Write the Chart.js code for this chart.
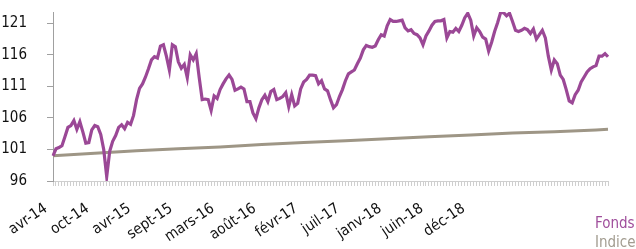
<!DOCTYPE html>
<html>
<head>
<meta charset="utf-8">
<script src="https://cdn.jsdelivr.net/npm/chart.js@4.4.1/dist/chart.umd.min.js"></script>
<style>
body { margin: 0; background: #fff; }
#wrap { position: relative; width: 636px; height: 249px; overflow: hidden; }
.leg { position: absolute; left: 595px; font-family: "DejaVu Sans Condensed", "DejaVu Sans", sans-serif; font-size: 15px; white-space: nowrap; }
</style>
</head>
<body>
<div id="wrap">
  <canvas id="chart" width="636" height="249"></canvas>
  <div class="leg" style="top:214px;color:#a04f9c">Fonds</div>
  <div class="leg" style="top:233px;color:#a29c90">Indice</div>
</div>
<script>
// x axis labels, one every 14 weekly points
const tickLabels = ['avr-14', 'oct-14', 'avr-15', 'sept-15', 'mars-16', 'août-16',
    'févr-17', 'juil-17', 'janv-18', 'juin-18', 'déc-18'];
const labelEvery = 14;

const yTicks = [96, 101, 106, 111, 116, 121];

// weekly fund values (base 100)
const fonds = [
    100.0, 101.1, 101.3, 101.6, 103.0, 104.5, 104.8, 105.6, 104.2, 105.4,
    103.8, 102.0, 102.1, 104.1, 104.8, 104.6, 103.4, 101.0, 96.7, 100.7,
    102.3, 103.2, 104.5, 104.9, 104.3, 105.3, 105.0, 106.4, 108.9, 110.7,
    111.4, 112.5, 113.8, 115.2, 115.7, 115.5, 117.4, 117.6, 115.8, 113.6,
    117.6, 117.3, 114.9, 113.9, 114.5, 112.4, 116.0, 115.2, 116.2, 112.4,
    108.9, 109.0, 108.9, 107.2, 109.5, 109.1, 110.5, 111.4, 112.2, 112.8,
    112.1, 110.4, 110.6, 110.9, 110.6, 108.6, 108.6, 106.8, 105.9, 107.6,
    108.9, 109.6, 108.6, 110.2, 110.5, 108.9, 109.1, 109.4, 110.0, 107.8,
    109.7, 107.9, 108.3, 110.6, 111.7, 112.1, 112.8, 112.8, 112.7, 111.4,
    111.9, 110.6, 110.3, 108.9, 107.6, 108.1, 109.4, 110.5, 111.9, 113.0,
    113.3, 113.6, 114.6, 115.5, 116.8, 117.5, 117.3, 117.2, 117.4, 118.4,
    119.2, 119.0, 120.6, 121.6, 121.3, 121.3, 121.4, 121.5, 120.3, 119.8,
    120.0, 119.4, 119.2, 118.7, 117.6, 119.0, 119.8, 120.7, 121.3, 121.4,
    121.4, 121.6, 118.7, 119.7, 119.6, 120.2, 119.7, 120.7, 121.9, 122.6,
    121.5, 119.0, 120.3, 119.7, 118.8, 118.5, 116.6, 118.0, 119.7, 121.1,
    122.7, 122.7, 122.2, 122.6, 121.3, 119.9, 119.7, 119.9, 120.2, 120.0,
    119.4, 120.1, 118.5, 119.2, 119.9, 118.7, 115.8, 113.6, 115.2, 114.6,
    112.8, 112.1, 110.5, 108.7, 108.4, 109.7, 110.4, 111.7, 112.5, 113.3,
    113.8, 114.1, 114.3, 115.8, 115.8, 116.2, 115.7
];

// index values read at a few weeks, line joins them
const indiceWeeks = [0, 14, 28, 42, 56, 70, 84, 98, 112, 126, 140, 154, 168, 182, 186];
const indiceValues = [100.0, 100.4, 100.8, 101.1, 101.4, 101.8, 102.1, 102.4, 102.7, 103.0, 103.3, 103.6, 103.8, 104.1, 104.2];

const weeks = fonds.map((v, i) => i);
const indice = weeks.map(() => null);
indiceWeeks.forEach((w, k) => { indice[w] = indiceValues[k]; });

const font = { family: '"DejaVu Sans Condensed", "DejaVu Sans", sans-serif', size: 15 };

new Chart(document.getElementById('chart'), {
    type: 'line',
    data: {
        labels: weeks,
        datasets: [{
            label: 'Fonds',
            data: fonds,
            borderColor: '#9b4896',
            borderWidth: 3.2,
            pointRadius: 0,
            tension: 0
        }, {
            label: 'Indice',
            data: indice,
            borderColor: '#9e9686',
            borderWidth: 3,
            pointRadius: 0,
            spanGaps: true,
            tension: 0
        }]
    },
    options: {
        responsive: false,
        animation: false,
        layout: { padding: { left: 0, right: 28, top: 12, bottom: 0 } },
        plugins: { legend: { display: false }, tooltip: { enabled: false } },
        scales: {
            x: {
                grid: { drawOnChartArea: false, color: '#cfcfcf', tickLength: 5 },
                border: { color: '#cfcfcf' },
                ticks: {
                    autoSkip: false,
                    minRotation: 34,
                    maxRotation: 34,
                    padding: 9,
                    color: '#111',
                    font: font,
                    // trailing spaces push the rotated text a bit left, like the original
                    callback: (v, i) => (i % labelEvery === 0 ? (tickLabels[i / labelEvery] || '') + '  ' : '')
                },
                afterFit: (s) => { s.height = 68; s.paddingLeft = 0; s.paddingRight = 0; }
            },
            y: {
                min: 96,
                max: 122.8,
                grid: { drawOnChartArea: false, color: '#a0a0a0', tickLength: 6 },
                border: { color: '#a0a0a0' },
                ticks: { padding: 20, color: '#111', font: font },
                afterBuildTicks: (s) => { s.ticks = yTicks.map(v => ({ value: v })); },
                afterFit: (s) => { s.width = 53; s.paddingTop = 0; s.paddingBottom = 0; }
            }
        }
    }
});
</script>
</body>
</html>
